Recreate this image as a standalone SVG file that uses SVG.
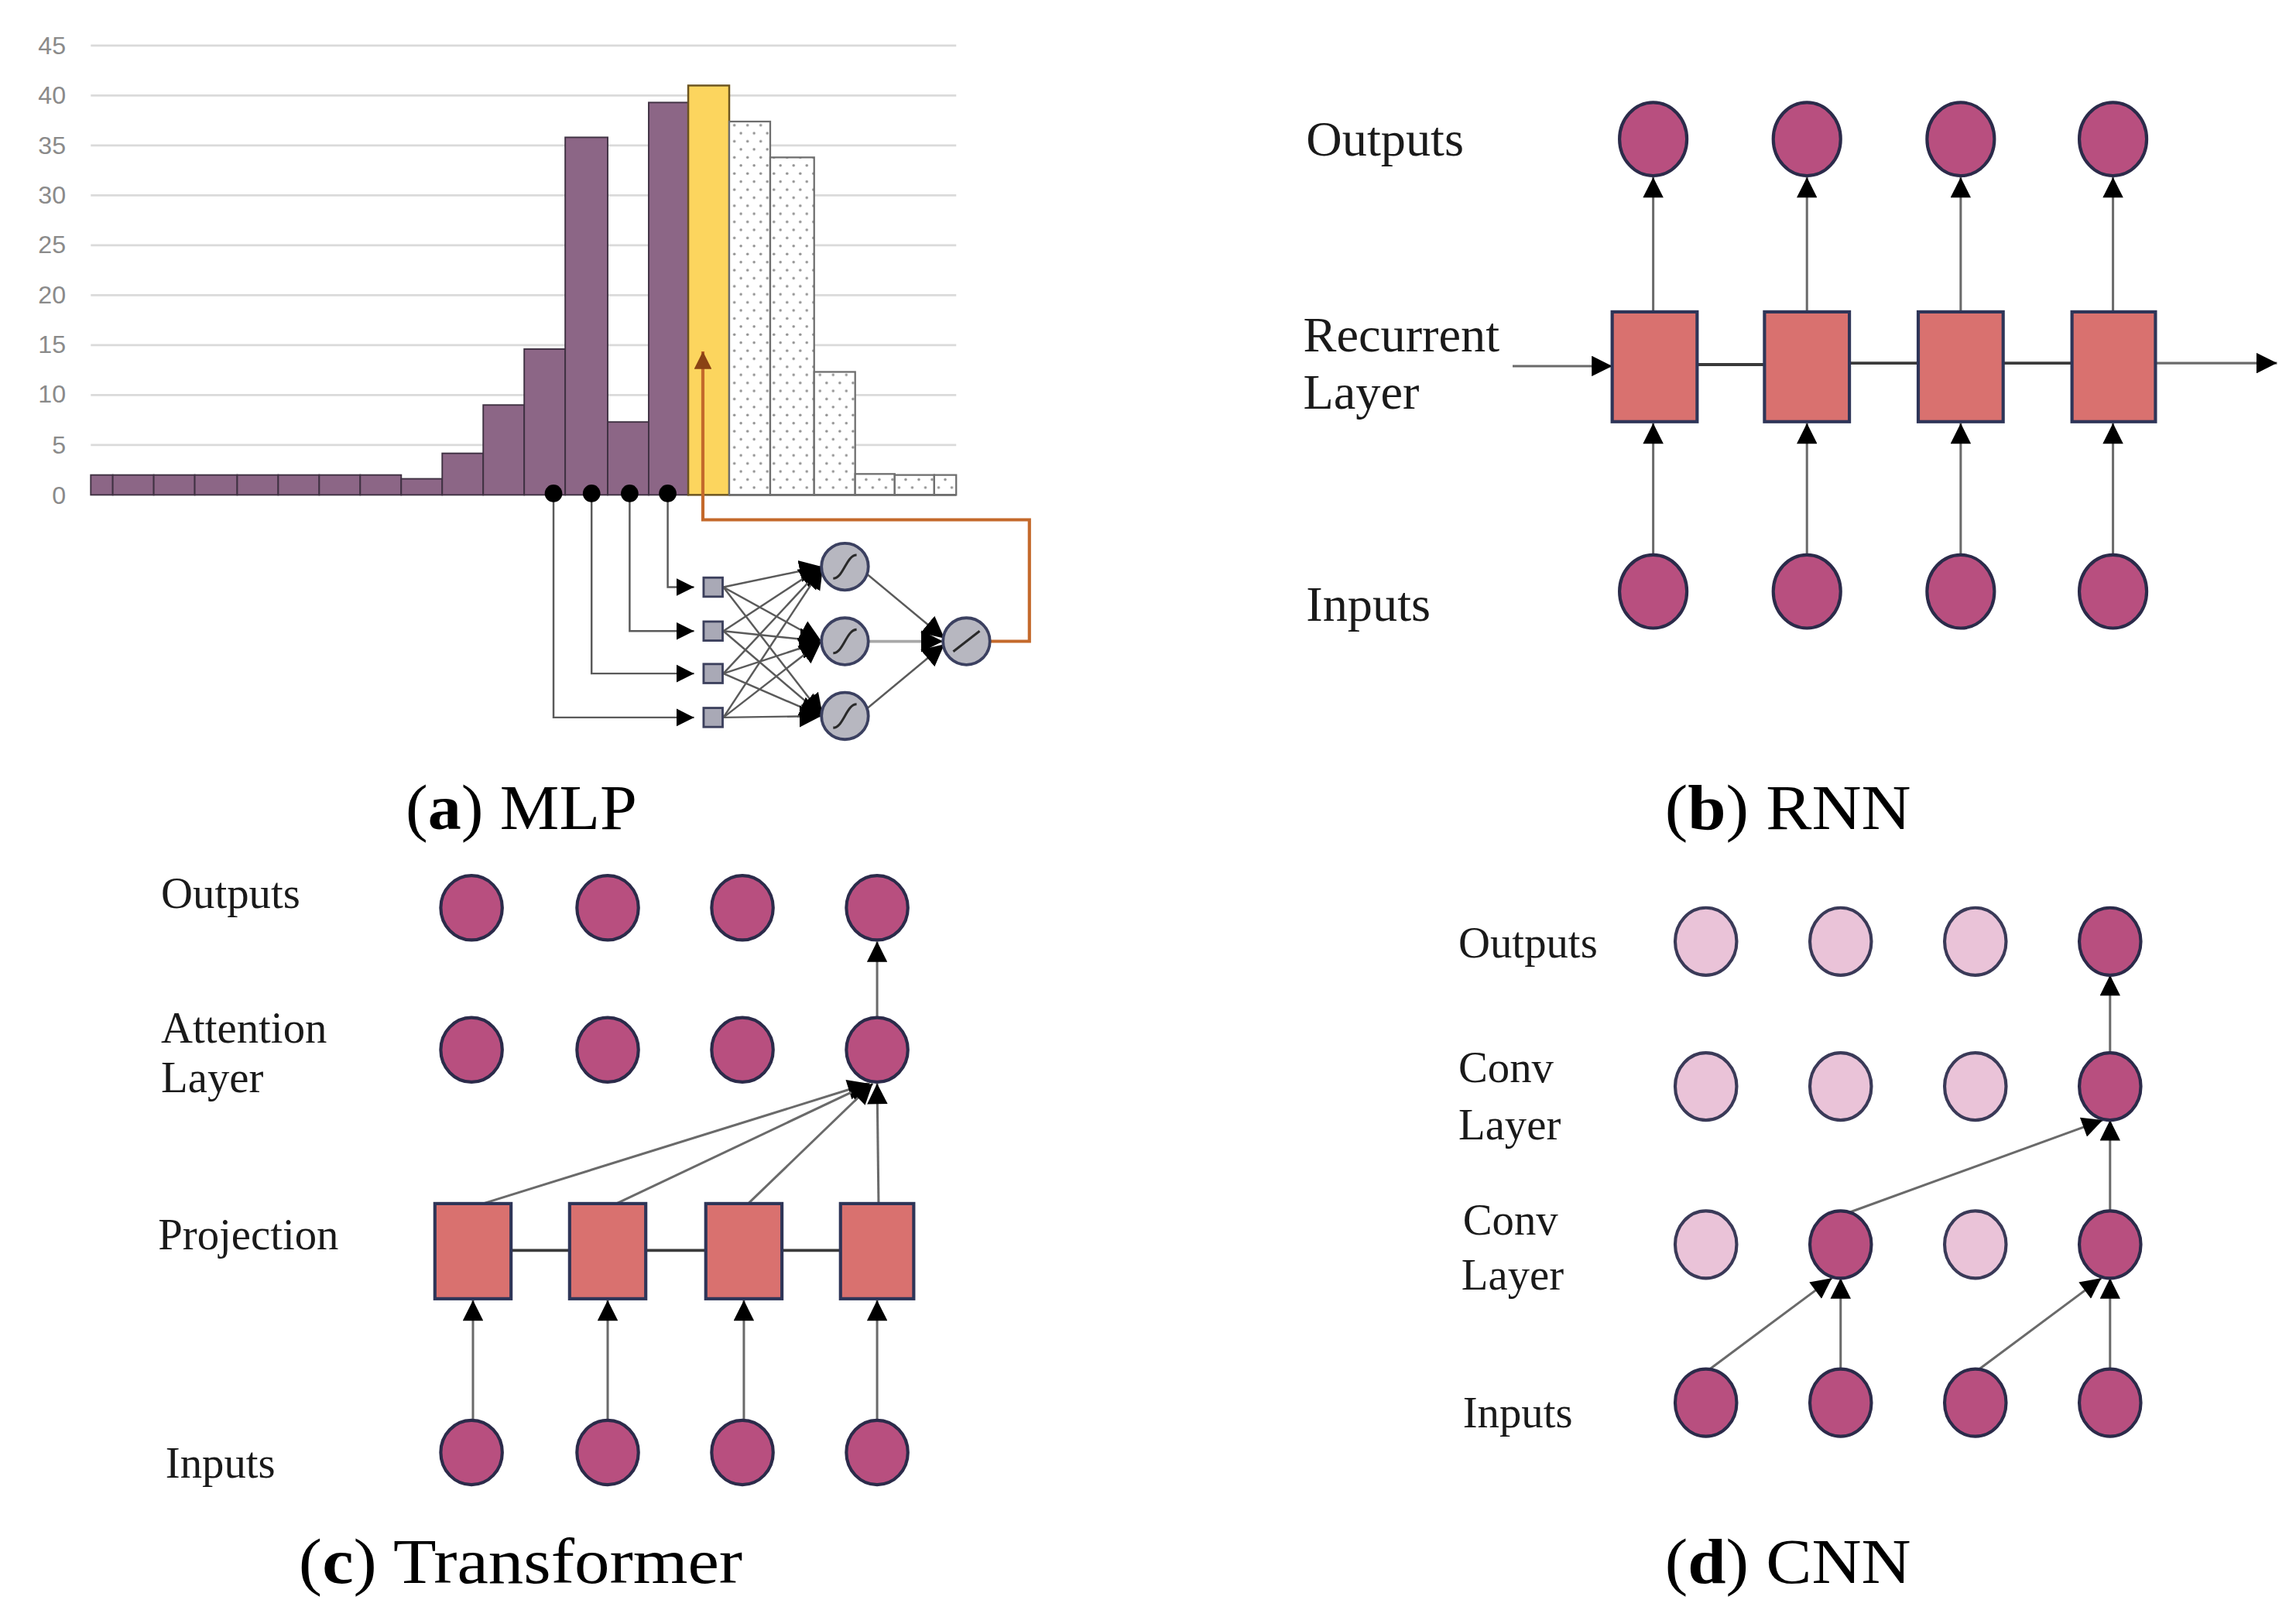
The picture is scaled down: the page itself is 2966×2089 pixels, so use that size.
<svg xmlns="http://www.w3.org/2000/svg" width="2966" height="2089" viewBox="0 0 2966 2089">
<defs>
<style>
.ax{font-family:"Liberation Sans",Arial,sans-serif;font-size:17px;fill:#8a8a8a;text-anchor:end}
.grid{stroke:#dadada;stroke-width:1.5}
.pbar{fill:#8c6686;stroke:#3f3142;stroke-width:1}
.dbar{fill:url(#dots);stroke:#6e6e6e;stroke-width:1.2}
.ybar{fill:#fcd55e;stroke:#6b5420;stroke-width:1.3}
.lbl{font-family:"Liberation Serif","Times New Roman",serif;fill:#1a1a1a}
.cap{font-family:"Liberation Serif","Times New Roman",serif;font-size:44px;fill:#000}
.node{fill:#b84f7f;stroke:#2b2b4a;stroke-width:2.2}
.lite{fill:#eac3d8;stroke:#3a3a58;stroke-width:2.2}
.box{fill:#d9716f;stroke:#2e3558;stroke-width:2.2}
.conn{stroke:#6a6a6a;stroke-width:1.6;fill:none}
.link{stroke:#3a3a3a;stroke-width:2;fill:none}
.mconn{stroke:#5a5a5a;stroke-width:1.3;fill:none}
.neur{fill:#b7b7c0;stroke:#3b4060;stroke-width:2}
.sq{fill:#a9a9b6;stroke:#3b3f5c;stroke-width:1.5}
.curve{stroke:#2a2a2a;stroke-width:1.6;fill:none}
.fb{stroke:#c4692b;stroke-width:2.2;fill:none}
</style>
<pattern id="dots" width="9" height="11" patternUnits="userSpaceOnUse">
<rect width="9" height="11" fill="#ffffff"/>
<circle cx="2" cy="3" r="0.9" fill="#8f8f8f"/>
<circle cx="6.5" cy="8.5" r="0.9" fill="#8f8f8f"/>
</pattern>
<marker id="ah" viewBox="0 0 12 12" refX="12" refY="6" markerWidth="15" markerHeight="14" markerUnits="userSpaceOnUse" orient="auto">
<path d="M0,0 L12,6 L0,12 z" fill="#000"/>
</marker>
<marker id="ahs" viewBox="0 0 12 12" refX="12" refY="6" markerWidth="12" markerHeight="13" markerUnits="userSpaceOnUse" orient="auto">
<path d="M0,0 L12,6 L0,12 z" fill="#000"/>
</marker>
<marker id="ahb" viewBox="0 0 12 12" refX="12" refY="6" markerWidth="15" markerHeight="16" markerUnits="userSpaceOnUse" orient="auto">
<path d="M0,0 L12,6 L0,12 z" fill="#000"/>
</marker>
<marker id="aho" viewBox="0 0 12 12" refX="12" refY="6" markerWidth="13" markerHeight="12" markerUnits="userSpaceOnUse" orient="auto">
<path d="M0,0 L12,6 L0,12 z" fill="#8a4214"/>
</marker>
</defs>
<rect width="2966" height="2089" fill="#ffffff"/>
<g transform="scale(1.8916)">

<!-- Panel (a) chart -->
<g id="chart-axis">
<line class="grid" x1="62" y1="31.1" x2="653" y2="31.1"/>
<line class="grid" x1="62" y1="65.2" x2="653" y2="65.2"/>
<line class="grid" x1="62" y1="99.3" x2="653" y2="99.3"/>
<line class="grid" x1="62" y1="133.4" x2="653" y2="133.4"/>
<line class="grid" x1="62" y1="167.5" x2="653" y2="167.5"/>
<line class="grid" x1="62" y1="201.6" x2="653" y2="201.6"/>
<line class="grid" x1="62" y1="235.7" x2="653" y2="235.7"/>
<line class="grid" x1="62" y1="269.8" x2="653" y2="269.8"/>
<line class="grid" x1="62" y1="303.9" x2="653" y2="303.9"/>
<text class="ax" x="45" y="37">45</text>
<text class="ax" x="45" y="71">40</text>
<text class="ax" x="45" y="105">35</text>
<text class="ax" x="45" y="139">30</text>
<text class="ax" x="45" y="173">25</text>
<text class="ax" x="45" y="207">20</text>
<text class="ax" x="45" y="241">15</text>
<text class="ax" x="45" y="275">10</text>
<text class="ax" x="45" y="310">5</text>
<text class="ax" x="45" y="344">0</text>
</g>
<g id="chart-bars">
<rect class="pbar" x="62" y="324.4" width="15" height="13.6"/>
<rect class="pbar" x="77" y="324.4" width="28" height="13.6"/>
<rect class="pbar" x="105" y="324.4" width="28" height="13.6"/>
<rect class="pbar" x="133" y="324.4" width="29" height="13.6"/>
<rect class="pbar" x="162" y="324.4" width="28" height="13.6"/>
<rect class="pbar" x="190" y="324.4" width="28" height="13.6"/>
<rect class="pbar" x="218" y="324.4" width="28" height="13.6"/>
<rect class="pbar" x="246" y="324.4" width="28" height="13.6"/>
<rect class="pbar" x="274" y="327" width="28" height="11"/>
<rect class="pbar" x="302" y="309.6" width="28" height="28.4"/>
<rect class="pbar" x="330" y="276.6" width="28" height="61.4"/>
<rect class="pbar" x="358" y="238.4" width="28" height="99.6"/>
<rect class="pbar" x="386" y="93.8" width="29" height="244.2"/>
<rect class="pbar" x="415" y="288.2" width="28" height="49.8"/>
<rect class="pbar" x="443" y="70" width="27" height="268"/>
<rect class="ybar" x="470" y="58.4" width="28" height="279.6"/>
<rect class="dbar" x="498" y="83" width="28" height="255"/>
<rect class="dbar" x="526" y="107.5" width="30" height="230.5"/>
<rect class="dbar" x="556" y="254" width="28" height="84"/>
<rect class="dbar" x="584" y="323.7" width="27" height="14.3"/>
<rect class="dbar" x="611" y="324.4" width="27" height="13.6"/>
<rect class="dbar" x="638" y="324.4" width="15" height="13.6"/>
<line x1="498" y1="338" x2="653" y2="338" stroke="#6e6e6e" stroke-width="1.4"/>
</g>

<!-- Panel (a) MLP network -->
<g id="mlp-connectors">
<path class="mconn" d="M378,337 V490 H474" marker-end="url(#ahs)"/>
<path class="mconn" d="M404,337 V460 H474" marker-end="url(#ahs)"/>
<path class="mconn" d="M430,337 V431 H474" marker-end="url(#ahs)"/>
<path class="mconn" d="M456,337 V401 H474" marker-end="url(#ahs)"/>
<line class="mconn" x1="494" y1="401" x2="561" y2="387" marker-end="url(#ahb)"/>
<line class="mconn" x1="494" y1="401" x2="561" y2="438" marker-end="url(#ahb)"/>
<line class="mconn" x1="494" y1="401" x2="562" y2="489" marker-end="url(#ahb)"/>
<line class="mconn" x1="494" y1="431" x2="561" y2="387" marker-end="url(#ahb)"/>
<line class="mconn" x1="494" y1="431" x2="561" y2="438" marker-end="url(#ahb)"/>
<line class="mconn" x1="494" y1="431" x2="562" y2="489" marker-end="url(#ahb)"/>
<line class="mconn" x1="494" y1="460" x2="562" y2="387" marker-end="url(#ahb)"/>
<line class="mconn" x1="494" y1="460" x2="561" y2="438" marker-end="url(#ahb)"/>
<line class="mconn" x1="494" y1="460" x2="561" y2="489" marker-end="url(#ahb)"/>
<line class="mconn" x1="494" y1="490" x2="562" y2="387" marker-end="url(#ahb)"/>
<line class="mconn" x1="494" y1="490" x2="561" y2="438" marker-end="url(#ahb)"/>
<line class="mconn" x1="494" y1="490" x2="561" y2="489" marker-end="url(#ahb)"/>
<line class="mconn" x1="592" y1="392" x2="645" y2="436" marker-end="url(#ahb)"/>
<line x1="593" y1="438" x2="644" y2="438" stroke="#a8a8a8" stroke-width="2" marker-end="url(#ahb)"/>
<line class="mconn" x1="592" y1="484" x2="645" y2="440" marker-end="url(#ahb)"/>
<path class="fb" d="M676,438 H703 V355 H480 V240" marker-end="url(#aho)"/>
</g>
<g id="mlp-dots" fill="#000">
<circle cx="378" cy="337" r="6"/>
<circle cx="404" cy="337" r="6"/>
<circle cx="430" cy="337" r="6"/>
<circle cx="456" cy="337" r="6"/>
</g>
<g id="mlp-in1"><rect class="sq" x="480.5" y="394.5" width="13" height="13"/></g>
<g id="mlp-in2"><rect class="sq" x="480.5" y="424.5" width="13" height="13"/></g>
<g id="mlp-in3"><rect class="sq" x="480.5" y="453.5" width="13" height="13"/></g>
<g id="mlp-in4"><rect class="sq" x="480.5" y="483.5" width="13" height="13"/></g>
<g id="mlp-h1" transform="translate(577,387)"><circle class="neur" r="16"/><path class="curve" d="M-8,8 C-1,8 1,-8 8,-8"/></g>
<g id="mlp-h2" transform="translate(577,438)"><circle class="neur" r="16"/><path class="curve" d="M-8,8 C-1,8 1,-8 8,-8"/></g>
<g id="mlp-h3" transform="translate(577,489)"><circle class="neur" r="16"/><path class="curve" d="M-8,8 C-1,8 1,-8 8,-8"/></g>
<g id="mlp-out" transform="translate(660,438)"><circle class="neur" r="16"/><line class="curve" x1="-9" y1="7" x2="9" y2="-7"/></g>
<text class="cap" x="277" y="566" textLength="158" lengthAdjust="spacingAndGlyphs">(<tspan font-weight="bold">a</tspan>) MLP</text>

<!-- Panel (b) RNN -->
<g id="rnn-labels" class="lbl" font-size="34">
<text x="892" y="106">Outputs</text>
<text x="890" y="240">Recurrent</text>
<text x="890" y="279">Layer</text>
<text x="892" y="424">Inputs</text>
</g>
<g id="rnn-connectors">
<line class="conn" x1="1129" y1="213" x2="1129" y2="121" marker-end="url(#ah)"/>
<line class="conn" x1="1234" y1="213" x2="1234" y2="121" marker-end="url(#ah)"/>
<line class="conn" x1="1339" y1="213" x2="1339" y2="121" marker-end="url(#ah)"/>
<line class="conn" x1="1443" y1="213" x2="1443" y2="121" marker-end="url(#ah)"/>
<line class="conn" x1="1129" y1="379" x2="1129" y2="289" marker-end="url(#ah)"/>
<line class="conn" x1="1234" y1="379" x2="1234" y2="289" marker-end="url(#ah)"/>
<line class="conn" x1="1339" y1="379" x2="1339" y2="289" marker-end="url(#ah)"/>
<line class="conn" x1="1443" y1="379" x2="1443" y2="289" marker-end="url(#ah)"/>
<line class="conn" x1="1033" y1="250" x2="1101" y2="250" marker-end="url(#ah)"/>
<line class="link" x1="1159" y1="249" x2="1205" y2="249"/>
<line class="link" x1="1263" y1="248" x2="1310" y2="248"/>
<line class="link" x1="1368" y1="248" x2="1415" y2="248"/>
<line class="conn" x1="1472" y1="248" x2="1555" y2="248" marker-end="url(#ah)"/>
</g>
<g id="rnn-out1"><ellipse class="node" cx="1129" cy="95" rx="23" ry="25"/></g>
<g id="rnn-out2"><ellipse class="node" cx="1234" cy="95" rx="23" ry="25"/></g>
<g id="rnn-out3"><ellipse class="node" cx="1339" cy="95" rx="23" ry="25"/></g>
<g id="rnn-out4"><ellipse class="node" cx="1443" cy="95" rx="23" ry="25"/></g>
<g id="rnn-box1"><rect class="box" x="1101" y="213" width="58" height="75"/></g>
<g id="rnn-box2"><rect class="box" x="1205" y="213" width="58" height="75"/></g>
<g id="rnn-box3"><rect class="box" x="1310" y="213" width="58" height="75"/></g>
<g id="rnn-box4"><rect class="box" x="1415" y="213" width="57" height="75"/></g>
<g id="rnn-in1"><ellipse class="node" cx="1129" cy="404" rx="23" ry="25"/></g>
<g id="rnn-in2"><ellipse class="node" cx="1234" cy="404" rx="23" ry="25"/></g>
<g id="rnn-in3"><ellipse class="node" cx="1339" cy="404" rx="23" ry="25"/></g>
<g id="rnn-in4"><ellipse class="node" cx="1443" cy="404" rx="23" ry="25"/></g>
<text class="cap" x="1137" y="566" textLength="168" lengthAdjust="spacingAndGlyphs">(<tspan font-weight="bold">b</tspan>) RNN</text>

<!-- Panel (c) Transformer -->
<g id="tf-labels" class="lbl" font-size="30">
<text x="110" y="620">Outputs</text>
<text x="110" y="712">Attention</text>
<text x="110" y="746">Layer</text>
<text x="108" y="853">Projection</text>
<text x="113" y="1009">Inputs</text>
</g>
<g id="tf-connectors">
<line class="conn" x1="599" y1="695" x2="599" y2="643" marker-end="url(#ah)"/>
<line class="conn" x1="330" y1="822" x2="593" y2="740" marker-end="url(#ah)"/>
<line class="conn" x1="421" y1="822" x2="594" y2="740" marker-end="url(#ah)"/>
<line class="conn" x1="511" y1="822" x2="596" y2="740" marker-end="url(#ah)"/>
<line class="conn" x1="600" y1="822" x2="599" y2="740" marker-end="url(#ah)"/>
<line class="link" x1="349" y1="854" x2="389" y2="854"/>
<line class="link" x1="441" y1="854" x2="482" y2="854"/>
<line class="link" x1="534" y1="854" x2="574" y2="854"/>
<line class="conn" x1="323" y1="970" x2="323" y2="888" marker-end="url(#ah)"/>
<line class="conn" x1="415" y1="970" x2="415" y2="888" marker-end="url(#ah)"/>
<line class="conn" x1="508" y1="970" x2="508" y2="888" marker-end="url(#ah)"/>
<line class="conn" x1="599" y1="970" x2="599" y2="888" marker-end="url(#ah)"/>
</g>
<g id="tf-out1"><ellipse class="node" cx="322" cy="620" rx="21" ry="22"/></g>
<g id="tf-out2"><ellipse class="node" cx="415" cy="620" rx="21" ry="22"/></g>
<g id="tf-out3"><ellipse class="node" cx="507" cy="620" rx="21" ry="22"/></g>
<g id="tf-out4"><ellipse class="node" cx="599" cy="620" rx="21" ry="22"/></g>
<g id="tf-att1"><ellipse class="node" cx="322" cy="717" rx="21" ry="22"/></g>
<g id="tf-att2"><ellipse class="node" cx="415" cy="717" rx="21" ry="22"/></g>
<g id="tf-att3"><ellipse class="node" cx="507" cy="717" rx="21" ry="22"/></g>
<g id="tf-att4"><ellipse class="node" cx="599" cy="717" rx="21" ry="22"/></g>
<g id="tf-proj1"><rect class="box" x="297" y="822" width="52" height="65"/></g>
<g id="tf-proj2"><rect class="box" x="389" y="822" width="52" height="65"/></g>
<g id="tf-proj3"><rect class="box" x="482" y="822" width="52" height="65"/></g>
<g id="tf-proj4"><rect class="box" x="574" y="822" width="50" height="65"/></g>
<g id="tf-in1"><ellipse class="node" cx="322" cy="992" rx="21" ry="22"/></g>
<g id="tf-in2"><ellipse class="node" cx="415" cy="992" rx="21" ry="22"/></g>
<g id="tf-in3"><ellipse class="node" cx="507" cy="992" rx="21" ry="22"/></g>
<g id="tf-in4"><ellipse class="node" cx="599" cy="992" rx="21" ry="22"/></g>
<text class="cap" x="204" y="1081" textLength="303" lengthAdjust="spacingAndGlyphs">(<tspan font-weight="bold">c</tspan>) Transformer</text>

<!-- Panel (d) CNN -->
<g id="cnn-labels" class="lbl" font-size="30">
<text x="996" y="654">Outputs</text>
<text x="996" y="739">Conv</text>
<text x="996" y="778">Layer</text>
<text x="999" y="843">Conv</text>
<text x="998" y="881">Layer</text>
<text x="999" y="975">Inputs</text>
</g>
<g id="cnn-connectors">
<line class="conn" x1="1165" y1="937" x2="1251" y2="873" marker-end="url(#ah)"/>
<line class="conn" x1="1257" y1="935" x2="1257" y2="873" marker-end="url(#ah)"/>
<line class="conn" x1="1349" y1="937" x2="1435" y2="873" marker-end="url(#ah)"/>
<line class="conn" x1="1441" y1="935" x2="1441" y2="873" marker-end="url(#ah)"/>
<line class="conn" x1="1263" y1="828" x2="1436" y2="765" marker-end="url(#ah)"/>
<line class="conn" x1="1441" y1="827" x2="1441" y2="765" marker-end="url(#ah)"/>
<line class="conn" x1="1441" y1="719" x2="1441" y2="666" marker-end="url(#ah)"/>
</g>
<g id="cnn-out1"><ellipse class="lite" cx="1165" cy="643" rx="21" ry="23"/></g>
<g id="cnn-out2"><ellipse class="lite" cx="1257" cy="643" rx="21" ry="23"/></g>
<g id="cnn-out3"><ellipse class="lite" cx="1349" cy="643" rx="21" ry="23"/></g>
<g id="cnn-out4"><ellipse class="node" cx="1441" cy="643" rx="21" ry="23"/></g>
<g id="cnn-c2-1"><ellipse class="lite" cx="1165" cy="742" rx="21" ry="23"/></g>
<g id="cnn-c2-2"><ellipse class="lite" cx="1257" cy="742" rx="21" ry="23"/></g>
<g id="cnn-c2-3"><ellipse class="lite" cx="1349" cy="742" rx="21" ry="23"/></g>
<g id="cnn-c2-4"><ellipse class="node" cx="1441" cy="742" rx="21" ry="23"/></g>
<g id="cnn-c1-1"><ellipse class="lite" cx="1165" cy="850" rx="21" ry="23"/></g>
<g id="cnn-c1-2"><ellipse class="node" cx="1257" cy="850" rx="21" ry="23"/></g>
<g id="cnn-c1-3"><ellipse class="lite" cx="1349" cy="850" rx="21" ry="23"/></g>
<g id="cnn-c1-4"><ellipse class="node" cx="1441" cy="850" rx="21" ry="23"/></g>
<g id="cnn-in1"><ellipse class="node" cx="1165" cy="958" rx="21" ry="23"/></g>
<g id="cnn-in2"><ellipse class="node" cx="1257" cy="958" rx="21" ry="23"/></g>
<g id="cnn-in3"><ellipse class="node" cx="1349" cy="958" rx="21" ry="23"/></g>
<g id="cnn-in4"><ellipse class="node" cx="1441" cy="958" rx="21" ry="23"/></g>
<text class="cap" x="1137" y="1081" textLength="168" lengthAdjust="spacingAndGlyphs">(<tspan font-weight="bold">d</tspan>) CNN</text>
</g>
</svg>
